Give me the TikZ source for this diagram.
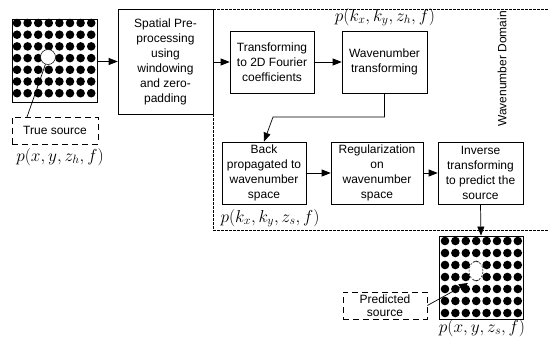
\documentclass[tikz,border=0pt]{standalone}
\usepackage{fontspec}
\setmainfont{Liberation Sans}
\usetikzlibrary{arrows.meta,shapes.geometric}
\begin{document}
\begin{tikzpicture}[x=1pt,y=-1pt,
  box/.style={draw,line width=0.7pt,align=center,inner sep=1pt,
    font=\fontsize{12}{15}\selectfont},
  dbox/.style={draw,dashed,dash pattern=on 6pt off 4pt,line width=0.8pt,align=center,
    font=\fontsize{12}{13}\selectfont,inner sep=1pt},
  flow/.style={line width=0.7pt,-{Triangle[length=9pt,width=7pt]}},
  lab/.style={font=\fontsize{17}{20}\selectfont,inner sep=0pt},
  region/.style={dashed,dash pattern=on 2.5pt off 1.5pt,line width=0.5pt}]
\useasboundingbox (0,0) rectangle (549,345);

% wavenumber-domain outline
\draw[region] (213,9) -- (549,9);
\draw[region] (213,114) -- (213,230) -- (549,230);
\node[rotate=90,font=\fontsize{12}{14}\selectfont] (dom) at (502,69) {Wavenumber Domain};

% measurement array
\node[draw,line width=0.8pt,minimum width=85pt,minimum height=83pt,inner sep=0pt] (arr1) at (54.5,60.5) {};
\foreach \i in {0,...,7}
  \foreach \j in {0,...,6}
    \fill (17+10.6*\i,23+11.7*\j) circle (4.3pt);
\node[circle,draw,fill=white,line width=0.5pt,minimum size=15pt,inner sep=0pt] (src1) at (48,57) {};
\node[dbox,minimum width=86pt,minimum height=27pt] (true) at (55,130.5) {True source};
\draw[line width=0.7pt] (27,117) -- (src1);
\node[lab] (p1) at (60,157) {$p(x,y,z_h,f)$};

% processing chain
\node[box,minimum width=95pt,minimum height=105pt] (pre) at (165.5,61.5) {Spatial Pre-\\processing\\using\\windowing\\and zero-\\padding};
\node[box,minimum width=84pt,minimum height=62pt] (fft) at (272,62) {Transforming\\to 2D Fourier\\coefficients};
\node[box,minimum width=85pt,minimum height=62pt] (wav) at (384.5,62) {Wavenumber\\transforming};
\node[lab] (p2) at (385,17) {$p(k_x,k_y,z_h,f)$};

\node[box,minimum width=84pt,minimum height=62pt] (back) at (264,173) {Back\\propagated to\\wavenumber\\space};
\node[box,minimum width=92pt,minimum height=62pt] (reg) at (377,173) {Regularization\\on\\wavenumber\\space};
\node[box,minimum width=85pt,minimum height=62pt] (inv) at (480.5,173) {Inverse\\transforming\\to predict the\\source};
\node[lab] (p3) at (270,218) {$p(k_x,k_y,z_s,f)$};

\draw[flow] (arr1.east |- pre.west) -- (pre.west);
\draw[flow] (pre.east |- fft) -- (fft.west);
\draw[flow] (fft.east) -- (wav.west);
\coordinate (turn) at (273,117);
\draw[flow] (wav.south) |- (turn) -- (back.north);
\draw[flow] (back.east) -- (reg.west);
\draw[flow] (reg.east) -- (inv.west);

% reconstructed array
\node[draw,line width=0.8pt,minimum width=84pt,minimum height=83pt,inner sep=0pt] (arr2) at (481,277.5) {};
\foreach \i in {0,...,7}
  \foreach \j in {0,...,6}
    \fill (445+10.4*\i,241+12*\j) circle (4.3pt);
\node[ellipse,draw,fill=white,dashed,dash pattern=on 2pt off 1.5pt,line width=0.5pt,minimum width=14pt,minimum height=19pt,inner sep=0pt] (src2) at (476,271) {};
\draw[flow] (inv.south) -- (arr2.north);
\node[dbox,minimum width=84pt,minimum height=27pt] (pred) at (385,305.5) {Predicted\\source};
\draw[flow] (pred.east) -- (468,283);
\node[lab] (p4) at (482,328) {$p(x,y,z_s,f)$};
\end{tikzpicture}
\end{document}
